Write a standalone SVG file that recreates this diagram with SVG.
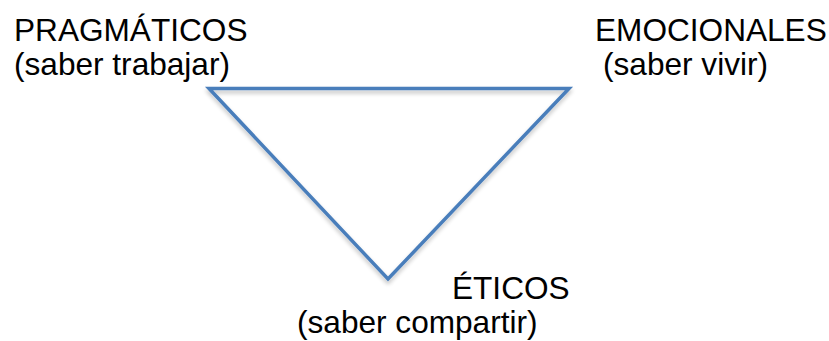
<svg xmlns="http://www.w3.org/2000/svg" width="829" height="341" viewBox="0 0 829 341">
<defs>
<style>
.lbl{font-family:"Liberation Sans",Arial,sans-serif;font-size:31.6px;fill:#000}
.tri{fill:none;stroke:#4a7ebb;stroke-width:3.5;stroke-linejoin:miter}
</style>
<filter id="sh" x="-10%" y="-10%" width="120%" height="130%">
<feGaussianBlur in="SourceAlpha" stdDeviation="2"/>
<feOffset dx="0" dy="3" result="b"/>
<feComponentTransfer><feFuncA type="linear" slope="0.25"/></feComponentTransfer>
<feMerge><feMergeNode/><feMergeNode in="SourceGraphic"/></feMerge>
</filter>
</defs>
<rect width="829" height="341" fill="#fff"/>
<g id="connectors">
<polygon class="tri" points="209,88.5 569,88.5 388,279" filter="url(#sh)"/>
</g>
<g id="pragmaticos">
<text class="lbl" x="14" y="41">PRAGMÁTICOS</text>
<text class="lbl" x="14" y="75">(saber trabajar)</text>
</g>
<g id="emocionales">
<text class="lbl" x="595" y="41">EMOCIONALES</text>
<text class="lbl" x="603" y="75">(saber vivir)</text>
</g>
<g id="eticos">
<text class="lbl" x="452" y="299">ÉTICOS</text>
<text class="lbl" x="297" y="333">(saber compartir)</text>
</g>
</svg>
